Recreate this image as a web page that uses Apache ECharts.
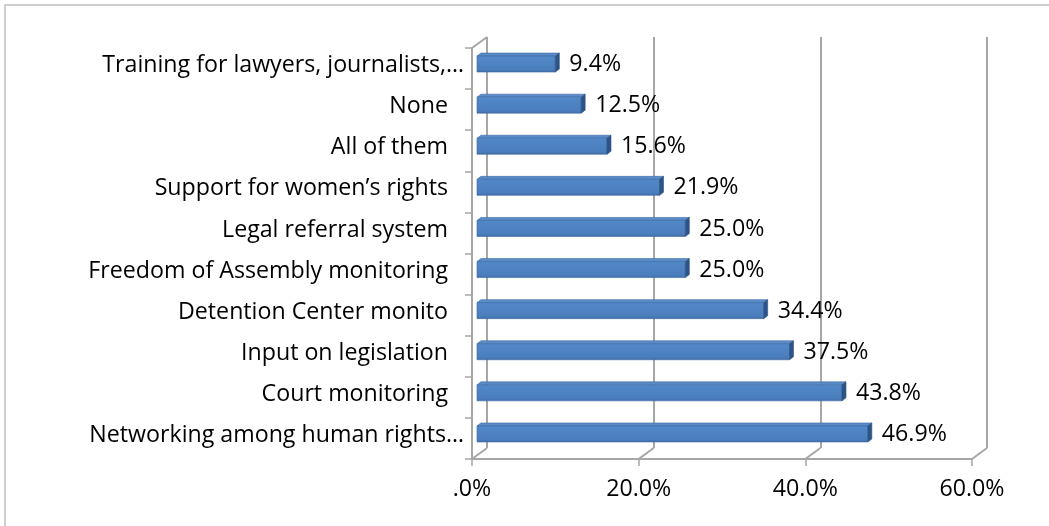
<!DOCTYPE html>
<html>
<head>
<meta charset="utf-8">
<script src="https://cdn.jsdelivr.net/npm/echarts@6/dist/echarts.min.js"></script>
<style>
  html, body { margin: 0; padding: 0; background: #fff; }
  #chart { width: 1049px; height: 526px; }
</style>
</head>
<body>
<div id="chart"></div>
<script>
// Survey answers, listed top to bottom
const categories = [
  'Training for lawyers, journalists,…',
  'None',
  'All of them',
  'Support for women’s rights',
  'Legal referral system',
  'Freedom of Assembly monitoring',
  'Detention Center monito',
  'Input on legislation',
  'Court monitoring',
  'Networking among human rights…'
];
// Share of respondents, percent
const shares = [9.4, 12.5, 15.6, 21.9, 25.0, 25.0, 34.4, 37.5, 43.8, 46.9];
// Value axis ticks, percent
const xTicks = [0, 20, 40, 60];

const FONT = '"Open Sans"';
const FONT_SIZE = 23.2;
const GRAY = '#a6a6a6';
// depth of the 3D box (back wall offset from the front plane)
const DEPTH_X = 15, DEPTH_Y = -11;

const fmtPct = v => (v === 0 ? '.0%' : v.toFixed(1) + '%');

const chart = echarts.init(document.getElementById('chart'), null, { renderer: 'canvas' });

chart.setOption({
  animation: false,
  backgroundColor: '#fff',
  graphic: [{
    type: 'rect',
    shape: { x: 5, y: 5, width: 1200, height: 700 },
    style: { fill: 'none', stroke: '#bfbfbf', lineWidth: 1.5 },
    silent: true
  }],
  grid: [
    // back wall
    { left: 472 + DEPTH_X, top: 48 + DEPTH_Y, width: 500, height: 411 },
    // front plane
    { left: 472, top: 48, width: 500, height: 411 }
  ],
  xAxis: [
    {
      gridIndex: 0, type: 'value', min: xTicks[0], max: xTicks[xTicks.length - 1], interval: 20,
      axisLine: { show: false }, axisTick: { show: false }, axisLabel: { show: false },
      splitLine: { show: true, lineStyle: { color: GRAY, width: 2 } }
    },
    {
      gridIndex: 1, type: 'value', min: xTicks[0], max: xTicks[xTicks.length - 1], interval: 20,
      axisLine: { show: true, lineStyle: { color: GRAY, width: 2 } },
      axisTick: { show: true, length: 7, lineStyle: { color: GRAY, width: 1.5 } },
      splitLine: { show: false },
      axisLabel: {
        margin: 19, color: '#000', fontFamily: FONT, fontSize: FONT_SIZE,
        formatter: v => fmtPct(v)
      }
    }
  ],
  yAxis: [
    {
      gridIndex: 0, type: 'value', show: false, splitLine: { show: false }
    },
    {
      gridIndex: 1, type: 'category', data: categories, inverse: true,
      axisLine: { show: true, lineStyle: { color: GRAY, width: 2 } },
      axisTick: { show: true, length: 7, lineStyle: { color: GRAY, width: 1.5 } },
      splitLine: { show: false },
      axisLabel: {
        margin: 8,
        formatter: v => (v.endsWith('…') ? '{t|' + v + '}' : '{n|' + v + '}'),
        rich: {
          n: { color: '#000', fontFamily: FONT, fontSize: FONT_SIZE, padding: [0, 16, 6, 0] },
          t: { color: '#000', fontFamily: FONT, fontSize: FONT_SIZE, padding: [0, 0, 6, 0] }
        }
      }
    }
  ],
  series: [
    {
      // floor / wall edges joining front plane to back wall
      type: 'custom',
      xAxisIndex: 1, yAxisIndex: 1,
      clip: false, silent: true, z: 1,
      data: xTicks.map(v => [v]),
      renderItem: (params, api) => {
        const v = api.value(0);
        const band = api.size([0, 1])[1];
        const pb = api.coord([v, categories.length - 1]);
        const yb = pb[1] + band / 2;
        const children = [{
          type: 'line',
          shape: { x1: pb[0], y1: yb, x2: pb[0] + DEPTH_X, y2: yb + DEPTH_Y },
          style: { stroke: GRAY, lineWidth: 2 }
        }];
        if (v === 0) {
          const pt = api.coord([0, 0]);
          const yt = pt[1] - band / 2;
          children.push({
            type: 'line',
            shape: { x1: pt[0], y1: yt, x2: pt[0] + DEPTH_X, y2: yt + DEPTH_Y },
            style: { stroke: GRAY, lineWidth: 2 }
          });
        }
        return { type: 'group', children };
      }
    },
    {
      // 3D-style horizontal bars with value labels
      type: 'custom',
      xAxisIndex: 1, yAxisIndex: 1,
      clip: false, z: 5,
      data: shares.map((v, i) => [v, i]),
      encode: { x: 0, y: 1 },
      renderItem: (params, api) => {
        const v = api.value(0);
        const c = api.value(1);
        const p0 = api.coord([0, c]);
        const p1 = api.coord([v, c]);
        const x0 = p0[0] + 5, x1 = p1[0] + 5, cy = p0[1];
        const top = cy - 12.5, bot = cy + 3.5;
        const dx = 4, dy = -3;
        return {
          type: 'group',
          children: [
            {
              type: 'polygon',
              shape: { points: [[x0, top], [x0 + dx, top + dy], [x1 + dx, top + dy], [x1, top]] },
              style: { fill: '#5b8cc8', stroke: '#3d6aa3', lineWidth: 0.6 }
            },
            {
              type: 'rect',
              shape: { x: x0, y: top, width: x1 - x0, height: bot - top },
              style: {
                fill: new echarts.graphic.LinearGradient(0, 0, 0, 1, [
                  { offset: 0, color: '#5289c9' },
                  { offset: 0.85, color: '#4a7dbb' },
                  { offset: 1, color: '#3e6aa3' }
                ]),
                stroke: '#3d6aa3', lineWidth: 0.6
              }
            },
            {
              type: 'polygon',
              shape: { points: [[x1, top], [x1 + dx, top + dy], [x1 + dx, bot + dy], [x1, bot]] },
              style: { fill: '#2d5487', stroke: '#2d5487', lineWidth: 0.6 }
            },
            {
              type: 'text',
              style: {
                x: x1 + dx + 10, y: cy - 4,
                text: fmtPct(v),
                fill: '#000', font: FONT_SIZE + 'px ' + FONT,
                verticalAlign: 'middle', align: 'left'
              }
            }
          ]
        };
      }
    }
  ]
});
</script>
</body>
</html>
